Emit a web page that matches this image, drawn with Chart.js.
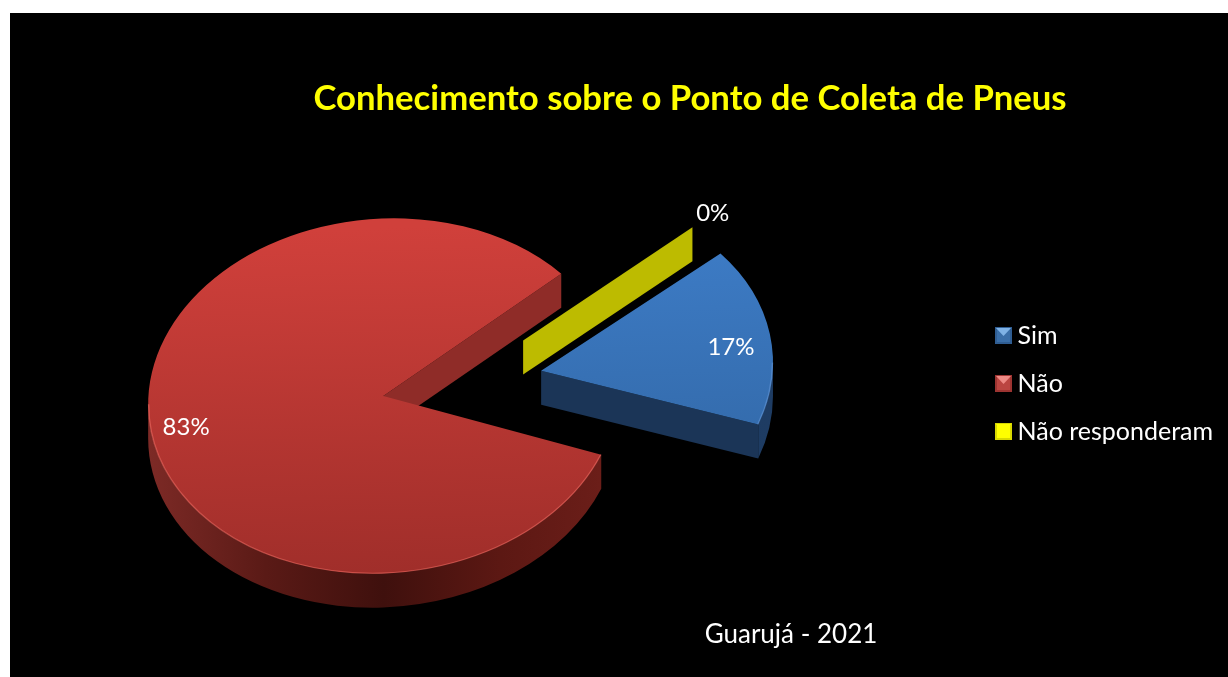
<!DOCTYPE html>
<html>
<head>
<meta charset="utf-8">
<title>Conhecimento sobre o Ponto de Coleta de Pneus</title>
<script src="https://cdn.jsdelivr.net/npm/chart.js@4/dist/chart.umd.min.js"></script>
<style>
  html, body { margin: 0; background: #fff; }
  canvas { display: block; }
</style>
</head>
<body>
<canvas id="chart" width="1228" height="677"></canvas>
<script>
const categories = ["Sim", "Não", "Não responderam"];
const shares = [17, 83, 0];
const chartTitle = "Conhecimento sobre o Ponto de Coleta de Pneus";
const placeLabel = "Guarujá - 2021";

// top gradient, wall colour, rim gradient stops
const topColors = [["#3f7fcb", "#2f639f"], ["#d0403b", "#a02e2a"], ["#bdbb00", "#bdbb00"]];
const wallColors = ["#1b3557", "#8f2c28", "#bdbb00"];
const rimColors = [
  ["#1b3557", "#1e3c63"],
  ["#7d2a26", "#5a1a16", "#3f100d", "#5c1813", "#6e1f1a"],
  ["#bdbb00", "#bdbb00"]
];
const edgeColors = ["rgba(110,160,225,.45)", "rgba(240,110,100,.55)", "rgba(0,0,0,0)"];
const swatchColors = [
  ["#3a6ea8", "#7fb2e6", "#2f5d92"],
  ["#bb4541", "#ee8a85", "#9c3431"],
  ["#ffff00", "#ffff00", "#d8d800"]
];
const labelReach = [0.83, 0.85, 1.12]; // label distance, share of the radius
const labelDrop = [7, 0, 0];

// flat projection of the pie
const pieRadius = 214.6;
const squash = 0.755;
const tilt = -0.035;
const depth = 34 / squash;
const zeroWallShift = { x: -18, y: -41 };
const zeroWallScale = 1.03;

const ctx = document.querySelector("#chart").getContext("2d");

function project(c, chart) {
  const a = chart.chartArea;
  const cx = (a.left + a.right) / 2, cy = (a.top + a.bottom) / 2;
  c.transform(1, tilt, 0, squash, 0, cy - squash * cy - tilt * cx);
}

function toScreen(chart, x, y) {
  const a = chart.chartArea;
  const cx = (a.left + a.right) / 2, cy = (a.top + a.bottom) / 2;
  return { x: x, y: cy + squash * (y - cy) + tilt * (x - cx) };
}

// where Chart.js really puts an exploded arc
function sliceGeometry(arc) {
  const half = (arc.startAngle + arc.endAngle) / 2;
  const off = (arc.options.offset || 0) / 4;
  const fix = 1 - Math.sin(Math.min(Math.PI, arc.endAngle - arc.startAngle));
  const r = arc.outerRadius + off * fix;
  return {
    x: arc.x + Math.cos(half) * off,
    y: arc.y + Math.sin(half) * off,
    r: r,
    half: half,
    trim: off * fix / Math.PI / r / 2 // the library narrows offset arcs a little
  };
}

function wall(c, g, angle, color) {
  const ex = g.x + Math.cos(angle) * g.r, ey = g.y + Math.sin(angle) * g.r;
  c.fillStyle = color;
  c.beginPath();
  c.moveTo(g.x, g.y);
  c.lineTo(ex, ey);
  c.lineTo(ex, ey + depth);
  c.lineTo(g.x, g.y + depth);
  c.closePath();
  c.fill();
}

function rimRange(arc, g) {
  const from = Math.max(arc.startAngle + g.trim, 0);
  const to = Math.min(arc.endAngle - g.trim, Math.PI);
  return to > from ? [from, to] : null;
}

function topGradient(context) {
  const i = context.dataIndex;
  const g = context.chart.ctx.createLinearGradient(0, 170, 0, 630);
  g.addColorStop(0, topColors[i][0]);
  g.addColorStop(1, topColors[i][1]);
  return g;
}

function swatch(colors) {
  const s = document.createElement("canvas");
  s.width = s.height = 17;
  const c = s.getContext("2d");
  c.fillStyle = colors[2];
  c.fillRect(0, 0, 17, 17);
  c.fillStyle = colors[0];
  c.fillRect(2, 2, 13, 13);
  c.fillStyle = colors[1];
  c.beginPath();
  c.moveTo(1, 1);
  c.lineTo(16, 1);
  c.lineTo(8.5, 9);
  c.closePath();
  c.fill();
  return s;
}

// the text is fitted to the box width, so keep the box wide
function moveCenter(box, x) {
  box.left = x - 500;
  box.right = x + 500;
}

const pie3d = {
  id: "pie3d",
  beforeDraw(chart) {
    const c = chart.ctx;
    c.save();
    c.fillStyle = "#000";
    c.fillRect(10, 13, chart.width - 10, chart.height - 13);
    c.restore();
  },
  afterLayout(chart) {
    // title, place label and legend sit off-centre in the original
    moveCenter(chart.titleBlock, 690);
    moveCenter(chart.boxes.find(b => b.options && b.options.text === placeLabel), 791);
    const legend = chart.legend;
    legend.left = 979;
    legend.top = 300;
    legend.right = chart.width;
    legend.bottom = chart.height;
  },
  afterDatasetsUpdate(chart) {
    // the big offsets leave no room for the automatic radius
    chart.getDatasetMeta(0).data.forEach(arc => {
      arc.outerRadius = pieRadius;
      arc.innerRadius = 0;
    });
  },
  beforeDatasetDraw(chart) {
    const c = chart.ctx;
    const arcs = chart.getDatasetMeta(0).data;
    c.save();
    project(c, chart);
    arcs.forEach((arc, i) => {
      if (shares[i] === 0) {
        // an empty slice only shows its upright wall
        const g = sliceGeometry(arcs[0]);
        g.x += zeroWallShift.x;
        g.y += zeroWallShift.y;
        g.r = arc.outerRadius * zeroWallScale;
        wall(c, g, arc.startAngle, wallColors[i]);
        return;
      }
      const g = sliceGeometry(arc);
      wall(c, g, arc.endAngle - g.trim, wallColors[i]);
      const range = rimRange(arc, g);
      if (!range) return;
      const fill = c.createLinearGradient(g.x - g.r, 0, g.x + g.r, 0);
      rimColors[i].forEach((col, n) => fill.addColorStop(n / (rimColors[i].length - 1), col));
      c.fillStyle = fill;
      c.beginPath();
      c.arc(g.x, g.y, g.r, range[0], range[1]);
      c.arc(g.x, g.y + depth, g.r, range[1], range[0], true);
      c.closePath();
      c.fill();
    });
  },
  afterDatasetDraw(chart) {
    const c = chart.ctx;
    chart.getDatasetMeta(0).data.forEach((arc, i) => {
      if (shares[i] === 0) return;
      const g = sliceGeometry(arc);
      const range = rimRange(arc, g);
      if (!range) return;
      c.strokeStyle = edgeColors[i];
      c.lineWidth = 1.5;
      c.beginPath();
      c.arc(g.x, g.y, g.r - 0.5, range[0], range[1]);
      c.stroke();
    });
    c.restore();
  },
  afterDraw(chart) {
    const c = chart.ctx;
    const total = shares.reduce((a, b) => a + b, 0);
    c.save();
    c.font = "24px Lato";
    c.fillStyle = "#fff";
    c.textAlign = "center";
    c.textBaseline = "middle";
    chart.getDatasetMeta(0).data.forEach((arc, i) => {
      const g = sliceGeometry(arc);
      if (shares[i] === 0) {
        const b = sliceGeometry(chart.getDatasetMeta(0).data[0]);
        g.x = b.x + zeroWallShift.x;
        g.y = b.y + zeroWallShift.y;
        g.r = arc.outerRadius * zeroWallScale;
        g.half = arc.startAngle;
      }
      const p = toScreen(chart,
        g.x + Math.cos(g.half) * g.r * labelReach[i],
        g.y + Math.sin(g.half) * g.r * labelReach[i]);
      c.fillText(Math.round(shares[i] / total * 100) + "%", p.x, p.y + labelDrop[i]);
    });
    c.restore();
  }
};

new Chart(ctx, {
  type: "pie",
  data: {
    labels: categories,
    datasets: [{
      data: shares,
      backgroundColor: topGradient,
      borderWidth: 0,
      offset: [558, 82, 0],
      clip: false
    }]
  },
  plugins: [pie3d],
  options: {
    responsive: false,
    animation: false,
    rotation: 50,
    layout: { padding: { left: 0, right: 177, top: 0, bottom: 0 } },
    plugins: {
      tooltip: { enabled: false },
      title: {
        display: true,
        text: chartTitle,
        color: "#ffff00",
        font: { family: "Lato", size: 34.7, weight: "bold" },
        padding: { top: 78, bottom: 47 }
      },
      subtitle: {
        display: true,
        text: placeLabel,
        position: "bottom",
        color: "#fff",
        font: { family: "Lato", size: 26, weight: "normal" },
        padding: { top: 0, bottom: 27 }
      },
      legend: {
        position: "right",
        align: "start",
        labels: {
          color: "#fff",
          font: { family: "Lato", size: 25 },
          padding: 23,
          usePointStyle: true,
          pointStyleWidth: 3,
          generateLabels(chart) {
            return Chart.overrides.doughnut.plugins.legend.labels.generateLabels(chart)
              .map((item, i) => Object.assign(item, { pointStyle: swatch(swatchColors[i]), hidden: false }));
          }
        }
      }
    }
  }
});
</script>
</body>
</html>
